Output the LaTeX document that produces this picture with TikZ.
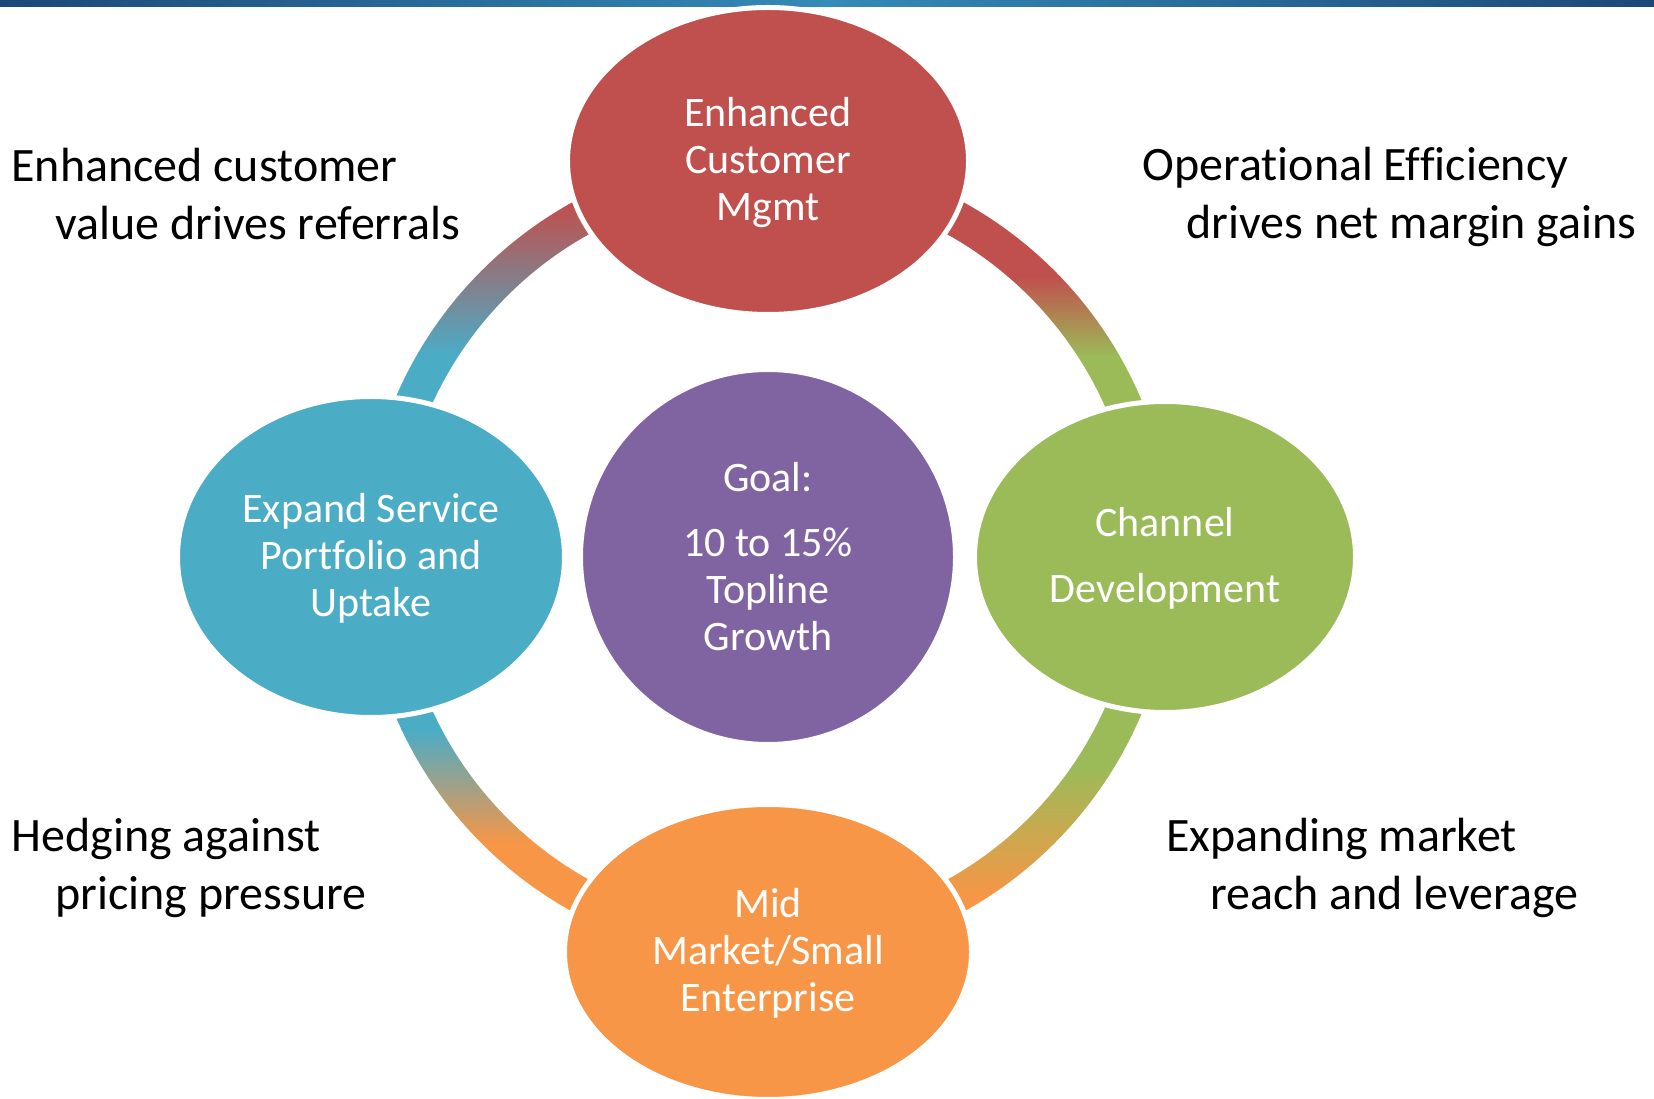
\documentclass[tikz,border=0pt]{standalone}
\usepackage{fontspec}
\setmainfont{Carlito}[Ligatures=NoCommon]
\usepackage{xcolor}
\usetikzlibrary{shapes,positioning,calc}
\definecolor{crmred}{RGB}{192,80,77}
\definecolor{changreen}{RGB}{155,187,89}
\definecolor{svcblue}{RGB}{75,172,198}
\definecolor{smborange}{RGB}{247,150,70}
\definecolor{goalpurple}{RGB}{128,100,162}
\definecolor{bardark}{RGB}{28,72,120}
\definecolor{barlight}{RGB}{52,138,184}

\begin{document}
\begin{tikzpicture}[x=0.5pt, y=0.5pt,
				hub/.style={circle, draw=white, line width=2.5pt, fill=goalpurple, minimum size=187.5pt, inner sep=0pt, text=white, align=center, font=\fontsize{21}{23.5}\selectfont},
				spoke/.style={ellipse, draw=white, line width=2.5pt, inner sep=0pt, text depth=2pt, text=white, align=center, font=\fontsize{21}{23.5}\selectfont},
				note/.style={anchor=west, inner sep=0pt, align=left, text=black, font=\fontsize{24}{29}\selectfont}]
				\useasboundingbox (0,0) rectangle (1654,1098);
				\shade[left color=bardark, right color=bardark, middle color=barlight] (0,1091) rectangle (1654,1098);
				
				\coordinate (mid) at (768,541);
				% ring quarters, faded from one node colour to the next
				\foreach \a/\ca/\cb/\ya/\yb in {90/crmred/svcblue/893/743, 0/crmred/changreen/821/741, 180/svcblue/smborange/368/255, 270/changreen/smborange/331/201}{
					\begin{scope}
						\clip (mid) ++(\a:405) arc[start angle=\a, delta angle=90, radius=405] -- ([shift={(\a+90:369)}]mid) arc[start angle=\a+90, delta angle=-90, radius=369] -- cycle;
						\fill[\ca] (0,\ya) rectangle (1654,1098);
						\shade[top color=\ca, bottom color=\cb] (0,\yb) rectangle (1654,\ya);
						\fill[\cb] (0,0) rectangle (1654,\yb);
					\end{scope}
				}
				
				\node[hub] (goal) at (mid) {Goal:\\[9pt]10 to 15\%\\Topline\\Growth};
				\node[spoke, fill=crmred, minimum width=200.5pt, minimum height=153.5pt] (crm) at (768,937) {Enhanced\\Customer\\Mgmt};
				\node[spoke, fill=svcblue, minimum width=193.5pt, minimum height=160.5pt] (svc) at (371,541) {Expand Service\\Portfolio and\\Uptake};
				\node[spoke, fill=changreen, minimum width=190.5pt, minimum height=155.5pt] (chan) at (1165,541) {Channel\\[9.5pt]Development};
				\node[spoke, fill=smborange, minimum width=203.5pt, minimum height=147.5pt] (smb) at (768,146) {Mid\\Market/Small\\Enterprise};
				
				\node[note] (refer) at (11,904) {Enhanced customer\\\hspace*{22pt}value drives referrals};
				\node[note] (margin) at (1142,901) {Operational Efficiency\\\hspace*{22pt}drives net margin gains};
				\node[note] (hedge) at (11,230) {Hedging against\\\hspace*{22pt}pricing pressure};
				\node[note] (reach) at (1166,230) {Expanding market\\\hspace*{22pt}reach and leverage};
			\end{tikzpicture}
\end{document}
